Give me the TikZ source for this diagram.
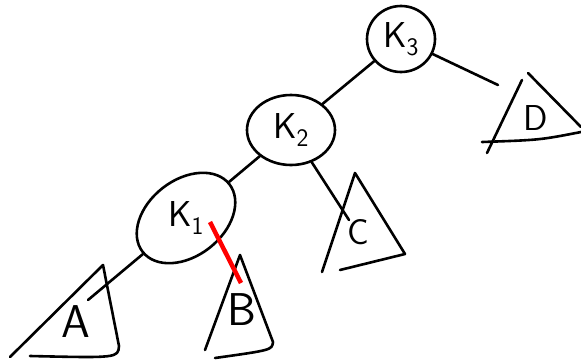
\documentclass[tikz,border=0pt]{standalone}
\usetikzlibrary{shapes.geometric}

\begin{document}
\begin{tikzpicture}[
  x=1pt, y=-1pt,
  line width=2.6pt, line cap=round, line join=round,
  font=\fontsize{36}{36}\selectfont\sffamily,
  key/.style={draw, ellipse, inner sep=0pt},
  sub/.style={inner sep=0pt},
  link/.style={draw},
  rotlink/.style={draw=red, line width=4.5pt, line cap=butt}
]
\useasboundingbox (0,0) rectangle (581,364);

% keys
\node[key, minimum width=68, minimum height=66] (k3) at (401,39) {K\textsubscript{3}};
\node[key, minimum width=88, minimum height=70] (k2) at (291,130) {K\textsubscript{2}};
\node[key, minimum width=110, minimum height=76, rotate=38] (k1) at (186,218) {};
\node[sub] (k1text) at (k1.center) {K\textsubscript{1}};

% subtrees
\node[sub, font=\fontsize{46}{46}\selectfont\sffamily] (A) at (76,322) {A};
\node[sub, font=\fontsize{46}{46}\selectfont\sffamily] (B) at (242,310) {B};
\node[sub] (C) at (358,232) {C};
\node[sub] (D) at (536,118) {D};

\coordinate (aend) at (88,300);
\coordinate (bstart) at (210,222);
\coordinate (bend) at (241,283);
\coordinate (cend) at (349,220);
\coordinate (dend) at (498,85);

\draw (10,357) -- (103,265) -- (119,346) .. controls (118,358) .. (30,356);
\draw (205,350) -- (240,255) -- (273,342) .. controls (272,350) .. (215,358);
\draw (322,272) -- (355,173) -- (405,254) -- (340,270);
\draw (487,153) -- (522,80);
\draw (528,73) -- (581,127);
\draw (482,142) .. controls (540,140) .. (581,132);

% links
\draw[link] (k3) -- (k2);
\draw[link] (k3) -- (dend);
\draw[link] (k2) -- (k1);
\draw[link] (k2) -- (cend);
\draw[link] (k1) -- (aend);
\draw[rotlink] (bstart) -- (bend);
\end{tikzpicture}
\end{document}
